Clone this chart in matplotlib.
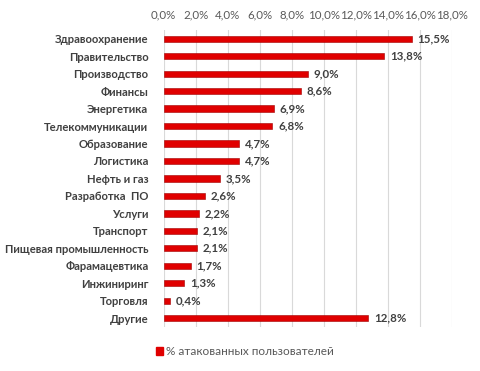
import matplotlib
matplotlib.use("Agg")
import matplotlib.pyplot as plt
from matplotlib.patches import Rectangle

categories = ["Здравоохранение", "Правительство", "Производство", "Финансы", "Энергетика",
              "Телекоммуникации", "Образование", "Логистика", "Нефть и газ", "Разработка  ПО",
              "Услуги", "Транспорт", "Пищевая промышленность", "Фарамацевтика", "Инжиниринг",
              "Торговля", "Другие"]
values = [15.5, 13.8, 9.0, 8.6, 6.9, 6.8, 4.7, 4.7, 3.5, 2.6, 2.2, 2.1, 2.1, 1.7, 1.3, 0.4, 12.8]
xticks = [0, 2, 4, 6, 8, 10, 12, 14, 16, 18]
series_name = "% атакованных пользователей"

plt.rcParams['font.family'] = ['Lato', 'DejaVu Sans']

fig = plt.figure(figsize=(4.8, 3.71), dpi=100)
ax = fig.add_axes([0.341, 0.119, 0.6, 0.80])

y = list(range(len(categories)))
ax.barh(y, values, height=0.36, color='#e00000', edgecolor='#a00000', linewidth=0.4,
        label=series_name, zorder=3)
ax.set_ylim(len(categories) - 0.5, -0.5)
ax.set_xlim(0, 18)
ax.set_xticks(xticks)
ax.set_xticklabels([f"{t:.1f}%".replace('.', ',') for t in xticks], color='#595959', fontsize=8.3)
ax.xaxis.tick_top()
ax.tick_params(axis='x', length=0, pad=7)
ax.set_yticks(y)
ax.set_yticklabels(categories, fontsize=8.1, fontweight='bold', color='#404040')
ax.tick_params(axis='y', length=0, pad=11)
ax.grid(axis='x', color='#d9d9d9', linewidth=0.8, zorder=0)
for s in ax.spines.values():
    s.set_visible(False)

for yi, v in zip(y, values):
    ax.annotate(f"{v:.1f}%".replace('.', ','), xy=(v, yi), xytext=(4, 0), textcoords='offset points',
                va='center', ha='left', fontsize=8.3, fontweight='bold', color='#404040')

leg = fig.legend(handles=[Rectangle((0, 0), 1, 1, color='#e00000')], labels=[series_name],
                 loc='center', bbox_to_anchor=(0.51, 0.052), frameon=False, fontsize=8.5,
                 handlelength=0.6, handleheight=0.6, handletextpad=0.3)
for t in leg.get_texts():
    t.set_color('#595959')

fig.savefig("out.png", dpi=100)
